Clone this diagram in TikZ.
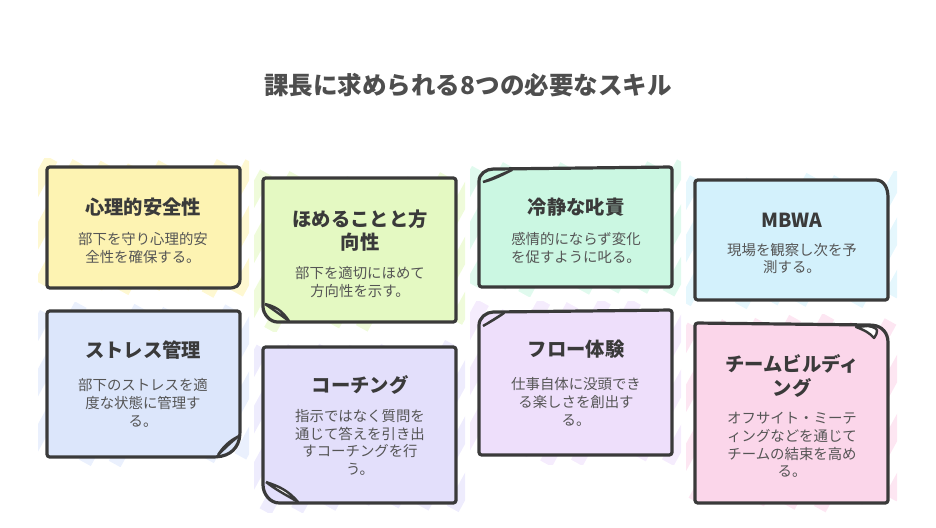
\documentclass[tikz,border=0pt]{standalone}
\usepackage{fontspec}
\setmainfont{Noto Sans CJK JP}
\definecolor{ink}{HTML}{3A3A3A}
\definecolor{txt}{HTML}{555555}
\definecolor{cyellow}{HTML}{FDF3B2}
\definecolor{cgreen}{HTML}{E4F9C2}
\definecolor{cmint}{HTML}{CBF7E2}
\definecolor{csky}{HTML}{D3F1FC}
\definecolor{cblue}{HTML}{DCE6FB}
\definecolor{clav}{HTML}{E3DFFB}
\definecolor{cpurple}{HTML}{EEDFFB}
\definecolor{cpink}{HTML}{FBD6EA}

\begin{document}
\begin{tikzpicture}[
  x=0.75pt,
  y=-0.75pt,
  card/.style={
    draw=ink,
    line width=2.4pt,
    line join=round,
    rounded corners=2pt
  },
  flap/.style={
    draw=ink,
    line width=1.8pt,
    line join=round,
    fill=white
  },
  hatch/.style={
    line width=10pt,
    draw opacity=0.6
  },
  head/.style={
    font=\bfseries\fontsize{14.5}{17.3}\selectfont,
    text=ink,
    align=center,
    inner sep=0pt
  },
  body/.style={
    font=\fontsize{10.8}{13.3}\selectfont,
    text=txt,
    align=center,
    inner sep=0pt
  },
  heading/.style={
    font=\bfseries\fontsize{18.4}{22}\selectfont,
    text=ink!90,
    inner sep=0pt
  }
]

\path[use as bounding box] (0,0) rectangle (936,528);
\node[heading] (title) at (468,85) {課長に求められる8つの必要なスキル};

% sketchy strokes that stick out of the cards
\pgfmathsetseed{11}
\foreach \xa/\ya/\xb/\yb/\col in {
    47/167/240/288/cyellow, 263/178/456/322/cgreen,
    479/167/672/287/cmint, 695/180/888/300/csky,
    47/311/240/457/cblue, 263/347/456/503/clav,
    479/310/672/455/cpurple, 695/323/888/503/cpink}{
  \begin{scope}
    \clip (\xa-9,\ya-9) rectangle (\xb+9,\yb+9);
    \pgfmathsetmacro{\run}{0.55*(\yb-\ya)}
    \foreach \k in {0,...,9}{
      \pgfmathsetmacro{\sx}{\xa-\run+\k*(\xb-\xa+\run)/9}
      \pgfmathsetmacro{\ea}{-5+rnd*14}
      \pgfmathsetmacro{\eb}{-5+rnd*14}
      \draw[hatch, draw=\col] (\sx-\ea*0.55,\yb+\ea) -- (\sx+\run+\eb*0.55,\ya-\eb);
    }
  \end{scope}
}

% row 1
\draw[card, fill=cyellow] (47,167) -- (240,167) -- (240,276)
  .. controls (240,286) and (236,288) .. (226,288) -- (47,288) -- cycle;
\node[head] (safetyhead) at (143,207) {心理的安全性};
\node[body] (safetybody) at (143,248) {部下を守り心理的安\\全性を確保する。};

\draw[card, fill=cgreen] (263,178) -- (456,178) -- (456,322) -- (280,322)
  .. controls (270,322) and (263,314) .. (263,304) -- cycle;
\draw[flap] (265,304) .. controls (274,306) and (282,310) .. (289,321)
  .. controls (282,316) and (274,310) .. (265,304);
\node[head] (praisehead) at (360,230.5) {ほめることと方\\向性};
\node[body] (praisebody) at (360,282) {部下を適切にほめて\\方向性を示す。};

\draw[card, fill=cmint] (479,287) -- (479,184)
  .. controls (479,174) and (486,169) .. (496,169) -- (672,167) -- (672,287) -- cycle;
\draw[flap] (483,182) .. controls (492,180) and (500,176) .. (512,170)
  .. controls (502,174) and (494,178) .. (483,182);
\node[head] (rebukehead) at (576,207) {冷静な叱責};
\node[body] (rebukebody) at (576,248) {感情的にならず変化\\を促すように叱る。};

\draw[card, fill=csky] (695,180) -- (873,180)
  .. controls (884,180) and (888,188) .. (888,200) -- (888,300) -- (695,300) -- cycle;
\node[head] (mbwahead) at (792,220) {MBWA};
\node[body] (mbwabody) at (792,258.5) {現場を観察し次を予\\測する。};

% row 2
\draw[card, fill=cblue] (47,311) -- (240,311) -- (240,432)
  .. controls (239,448) and (230,456) .. (214,457) -- (47,457) -- cycle;
\draw[flap] (218,455) .. controls (223,447) and (229,441) .. (239,436)
  .. controls (231,442) and (225,448) .. (218,455);
\node[head] (stresshead) at (143,350) {ストレス管理};
\node[body] (stressbody) at (143,403) {部下のストレスを適\\度な状態に管理す\\る。};

\draw[card, fill=clav] (263,347) -- (456,347) -- (456,503) -- (282,503)
  .. controls (270,503) and (263,494) .. (263,482) -- cycle;
\draw[flap] (266,482) .. controls (278,486) and (288,490) .. (298,502)
  .. controls (288,496) and (276,490) .. (266,482);
\node[head] (coachhead) at (360,385) {コーチング};
\node[body] (coachbody) at (360,442.5) {指示ではなく質問を\\通じて答えを引き出\\すコーチングを行\\う。};

\draw[card, fill=cpurple] (479,455) -- (479,328)
  .. controls (479,318) and (486,312) .. (496,312) -- (672,310) -- (672,455) -- cycle;
\draw[flap] (483,326) .. controls (490,322) and (496,318) .. (504,313)
  .. controls (497,318) and (490,322) .. (483,326);
\node[head] (flowhead) at (576,349) {フロー体験};
\node[body] (flowbody) at (576,402) {仕事自体に没頭でき\\る楽しさを創出す\\る。};

\draw[card, fill=cpink] (695,323) -- (870,325)
  .. controls (882,326) and (888,333) .. (888,345) -- (888,503) -- (695,503) -- cycle;
\draw[flap] (856,327) .. controls (864,330) and (870,333) .. (874,338)
  .. controls (878,332) and (880,328) .. (868,326) -- cycle;
\node[head] (teamhead) at (792,376) {チームビルディ\\ング};
\node[body] (teambody) at (792,445) {オフサイト・ミーテ\\ィングなどを通じて\\チームの結束を高め\\る。};

\end{tikzpicture}
\end{document}
